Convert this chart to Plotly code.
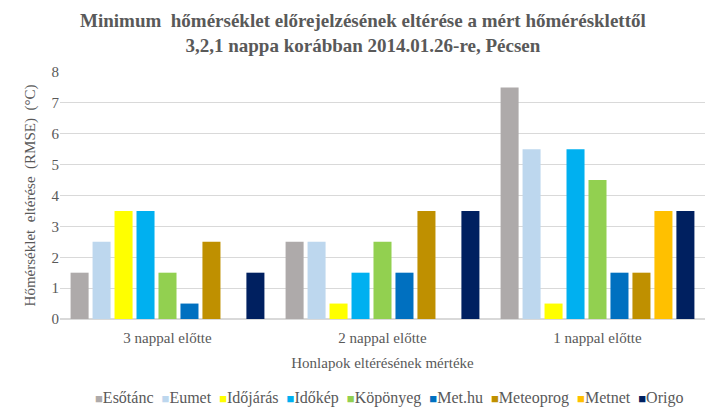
import plotly.graph_objects as go

categories = ["3 nappal előtte", "2 nappal előtte", "1 nappal előtte"]
series_names = ["Esőtánc", "Eumet", "Időjárás", "Időkép", "Köpönyeg", "Met.hu", "Meteoprog", "Metnet", "Origo"]
esotanc = [1.5, 2.5, 7.5]
eumet = [2.5, 2.5, 5.5]
idojaras = [3.5, 0.5, 0.5]
idokep = [3.5, 1.5, 5.5]
koponyeg = [1.5, 2.5, 4.5]
methu = [0.5, 1.5, 1.5]
meteoprog = [2.5, 3.5, 1.5]
metnet = [None, None, 3.5]
origo = [1.5, 3.5, 3.5]
values = [esotanc, eumet, idojaras, idokep, koponyeg, methu, meteoprog, metnet, origo]
colors = ["#AEAAAA", "#BDD7EE", "#FFFF00", "#00B0F0", "#92D050", "#0070C0", "#BF9000", "#FFC000", "#002060"]

font_family = "Liberation Serif, Times New Roman, serif"
grey = "#595959"

fig = go.Figure()
for name, vals, col in zip(series_names, values, colors):
    fig.add_trace(go.Bar(name=name, x=categories, y=vals, showlegend=False,
                         marker=dict(color=col, line=dict(width=0))))

fig.add_annotation(
    text="<b>Minimum  hőmérséklet előrejelzésének eltérése a mért hőmérésklettől</b><br><b>3,2,1 nappa korábban 2014.01.26-re, Pécsen</b>",
    xref="paper", yref="paper", x=0.47, y=1.0, yshift=64, xanchor="center", yanchor="top",
    showarrow=False, align="center",
    font=dict(family=font_family, size=19, color=grey),
)

legend_text = "&nbsp;&nbsp;".join(
    f"<span style='color:{c}; font-size:13px'>■</span>{n}"
    for n, c in zip(series_names, colors)
)
fig.add_annotation(
    text=legend_text, xref="paper", yref="paper", x=0.51, y=-0.32,
    xanchor="center", yanchor="middle", showarrow=False,
    font=dict(family=font_family, size=16, color=grey),
)

fig.update_layout(
    width=711, height=410,
    barmode="group", bargap=0.08, bargroupgap=0.18,
    paper_bgcolor="white", plot_bgcolor="white",
    margin=dict(l=52, r=14, t=64, b=99, autoexpand=False),
    font=dict(family=font_family, color=grey, size=15),
    xaxis=dict(
        title=dict(text="Honlapok eltérésének mértéke", font=dict(family=font_family, size=15, color=grey), standoff=12),
        showline=True, linecolor="#D9D9D9", linewidth=1, ticks="",
        tickfont=dict(family=font_family, size=15, color=grey), ticklabelstandoff=5,
    ),
    yaxis=dict(
        title=dict(text="Hőmérséklet  eltérése  (RMSE)  (°C)", font=dict(family=font_family, size=15, color=grey), standoff=12),
        range=[0, 8], dtick=1, showgrid=True, gridcolor="#D9D9D9", gridwidth=1,
        zeroline=True, zerolinecolor="#D9D9D9", ticks="",
        tickfont=dict(family=font_family, size=15, color=grey),
    ),
)

fig.write_html("out.html")
